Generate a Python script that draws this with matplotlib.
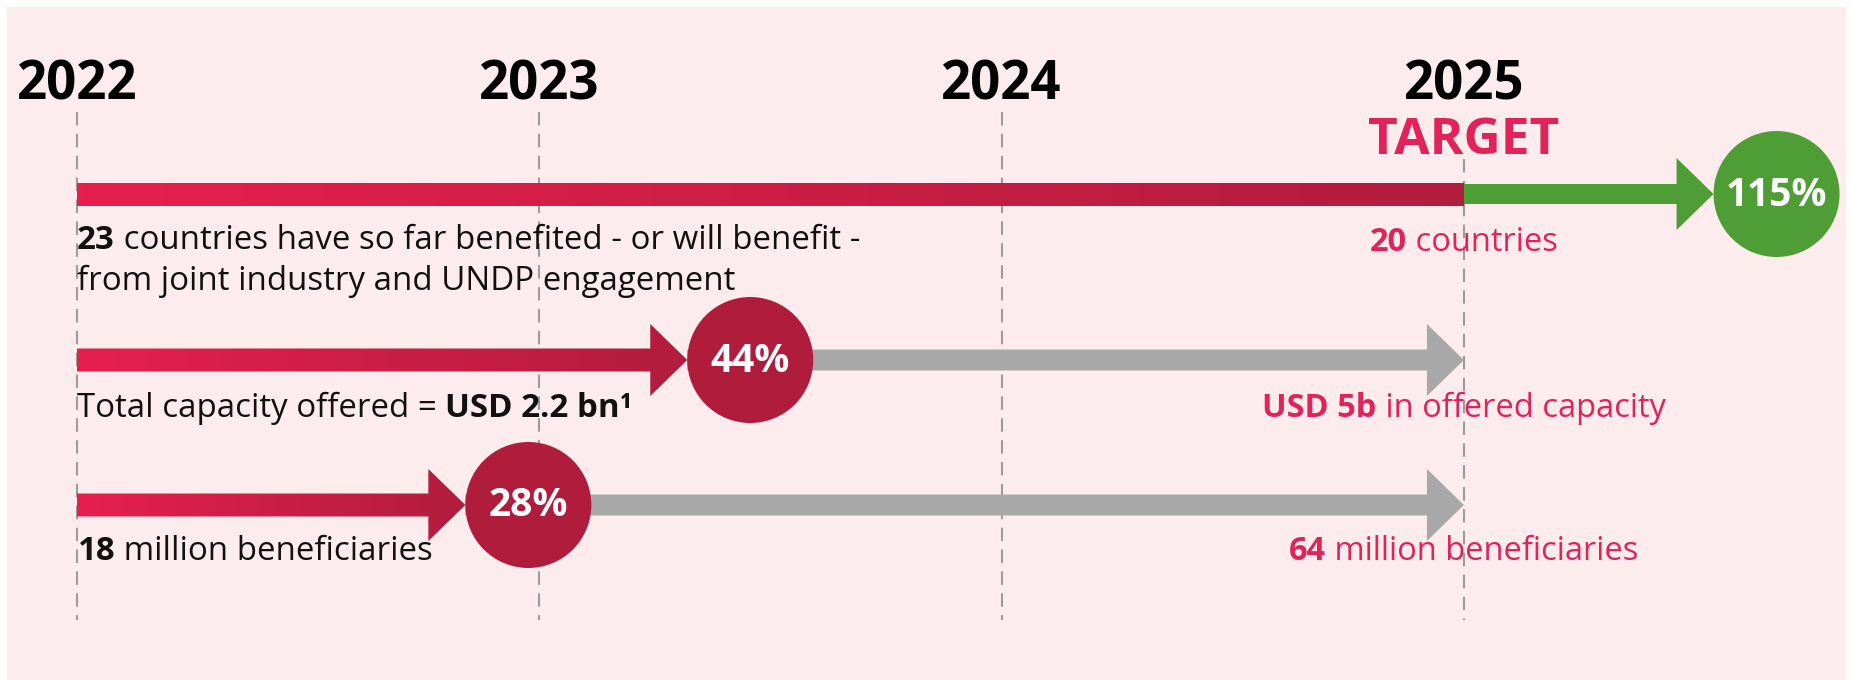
import numpy as np
import matplotlib.pyplot as plt
from matplotlib.patches import Polygon, Rectangle
from matplotlib.colors import LinearSegmentedColormap
from matplotlib.transforms import offset_copy

plt.rcParams['font.family'] = ['Open Sans', 'DejaVu Sans']

# data
years = [2022, 2023, 2024, 2025]
start_year = 2022
target_year = 2025
pct_labels = ['115%', '44%', '28%']
arrow_end = [2025.54, 2023.32, 2022.84]   # where each progress arrow stops (years)
status_text = [
    [[('23', True), (' countries have so far benefited - or will benefit -', False)],
     [('from joint industry and UNDP engagement', False)]],
    [[('Total capacity offered = ', False), ('USD 2.2 bn¹', True)]],
    [[('18', True), (' million beneficiaries', False)]],
]
target_text = [
    [('20', True), (' countries', False)],
    [('USD 5b', True), (' in offered capacity', False)],
    [('64', True), (' million beneficiaries', False)],
]

# colours / layout
BG = '#fdeced'
RED_L, RED_R = '#e5204e', '#b21c3d'
CIRCLE_RED = '#b01c3b'
GREEN = '#4f9e35'
GREY = '#a9a8a8'
TXT_RED = '#e2235a'
row_y = [194, 360, 505]          # pixel rows (y axis runs in pixels, top down)
base_y = [[249, 290], [417], [560]]
target_base = [251, 417, 560]

fig = plt.figure(figsize=(18.51, 6.8), dpi=100)
fig.patch.set_facecolor('white')
fig.add_artist(Rectangle((7 / 1851, 0), 1838 / 1851, 673 / 680,
                         transform=fig.transFigure, color=BG, zorder=0))
ax = fig.add_axes([0, 0, 1, 1])
ax.patch.set_visible(False)
ax.axis('off')
XLIM = (2021.8334, 2025.8373)
ppy = 1851 / (XLIM[1] - XLIM[0])   # pixels per year

grad = LinearSegmentedColormap.from_list('redgrad', [RED_L, RED_R])


def arrow_poly(x0, x1, y, hb, hh, head_px, head=True):
    if not head:
        return [(x0, y - hb), (x1, y - hb), (x1, y + hb), (x0, y + hb)]
    xb = x1 - head_px / ppy
    return [(x0, y - hb), (xb, y - hb), (xb, y - hh), (x1, y),
            (xb, y + hh), (xb, y + hb), (x0, y + hb)]


def red_arrow(x0, x1, y, head=True):
    poly = Polygon(arrow_poly(x0, x1, y, 11.5, 36, 37, head), closed=True,
                   facecolor='none', edgecolor='none')
    ax.add_patch(poly)
    im = ax.imshow(np.linspace(0, 1, 256)[None, :], cmap=grad, aspect='auto',
                   extent=[x0, x1, y + 36, y - 36], zorder=3)
    im.set_clip_path(poly)


def flat_arrow(x0, x1, y, color, hb=10.5):
    ax.add_patch(Polygon(arrow_poly(x0, x1, y, hb, 36, 37), closed=True,
                         facecolor=color, edgecolor='none', zorder=2))


renderer = fig.canvas.get_renderer()


def rich(x, y, parts, color, size=23.8, ha='left'):
    widths = []
    for s, b in parts:
        t = ax.text(0, 0, s, fontsize=size, fontweight='bold' if b else 'normal')
        widths.append(t.get_window_extent(renderer).width)
        t.remove()
    shift = -sum(widths) / 2 if ha == 'center' else 0
    for (s, b), w in zip(parts, widths):
        tr = offset_copy(ax.transData, fig=fig, x=shift, y=0, units='dots')
        ax.text(x, y, s, transform=tr, fontsize=size, color=color,
                fontweight='bold' if b else 'normal', ha='left', va='baseline', zorder=5)
        shift += w


# year grid
tops = [112, 112, 112, 159]
for yr, top in zip(years, tops):
    ax.vlines(yr, top, 620, colors='#9c9c9c', linewidth=1.5,
              linestyles=(0, (6.5, 4)), zorder=1)
    ax.text(yr, 100, str(yr), fontsize=38, fontweight='bold', color='black',
            ha='center', va='baseline', zorder=5)
ax.text(target_year, 154, 'TARGET', fontsize=37, fontweight='bold', color=TXT_RED,
        ha='center', va='baseline', zorder=5)

r_px = 63
for i, (end, lab, y) in enumerate(zip(arrow_end, pct_labels, row_y)):
    cx = end + r_px / ppy
    if end > target_year:
        red_arrow(start_year, target_year, y, head=False)
        flat_arrow(target_year, end, y, GREEN, hb=10)
        ccol = GREEN
    else:
        red_arrow(start_year, end, y)
        flat_arrow(end, target_year, y, GREY)
        ccol = CIRCLE_RED
    ax.scatter([cx], [y], s=(2 * r_px * 0.72) ** 2, color=ccol, edgecolors='none', zorder=4)
    ax.text(cx, y + 1, lab, fontsize=28, fontweight='bold', color='white',
            ha='center', va='center', zorder=5)

    for parts, by in zip(status_text[i], base_y[i]):
        rich(start_year, by, parts, '#111111')
    rich(target_year, target_base[i], target_text[i], TXT_RED, size=23.5, ha='center')

ax.set_xlim(*XLIM)
ax.set_ylim(680, 0)

fig.savefig('out.png', dpi=100, facecolor='white')
